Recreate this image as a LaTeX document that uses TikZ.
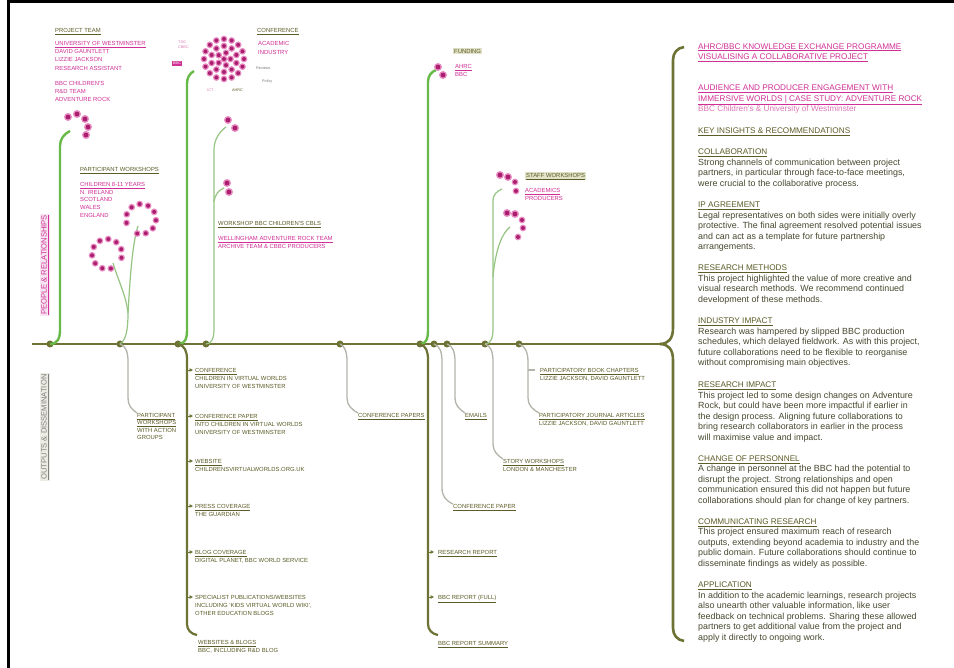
\documentclass[tikz,border=0pt]{standalone}
\usepackage{fontspec}
\setmainfont{Liberation Sans}
\usetikzlibrary{arrows.meta}
\definecolor{tlc}{RGB}{110,114,52}
\definecolor{grn}{RGB}{104,186,72}
\definecolor{grnthin}{RGB}{150,196,130}
\definecolor{gry}{RGB}{178,180,170}
\definecolor{mag}{RGB}{208,48,150}
\definecolor{lmag}{RGB}{220,120,180}
\definecolor{dotc}{RGB}{170,30,110}
\definecolor{halo}{RGB}{232,140,195}
\definecolor{otext}{RGB}{92,92,40}
\definecolor{btext}{RGB}{72,72,48}
\definecolor{beige}{RGB}{226,226,200}
\definecolor{palepink}{RGB}{246,228,240}
\definecolor{palegray}{RGB}{236,236,228}
\newcommand\mydot[2]{\fill[halo] ({#1},{#2}) circle (4pt); \fill[dotc] ({#1},{#2}) circle (2.4pt);}
\newcommand\smdot[2]{\fill[halo] ({#1},{#2}) circle (3.4pt); \fill[dotc] ({#1},{#2}) circle (2pt);}
\begin{document}
\begin{tikzpicture}[x=1pt,y=-1pt,
  timeline/.style={draw=tlc,line width=2.6pt},
  outthick/.style={draw=tlc,line width=2.2pt},
  stemT/.style={draw=grn,line width=2.4pt},
  stemt/.style={draw=grnthin,line width=1.2pt},
  grline/.style={draw=gry,line width=1.3pt},
  tnode/.style={circle,fill=tlc,inner sep=0pt,minimum size=7pt},
  tickarrow/.style={draw=tlc,line width=0.8pt,-{Triangle[length=3.5pt,width=3.5pt]}},
  lbl/.style={font=\fontsize{5.9}{8}\selectfont,text=otext,inner sep=0pt,anchor=north west,align=left},
  mlbl/.style={lbl,text=mag},
  tiny/.style={font=\fontsize{3.8}{5}\selectfont,inner sep=0pt,anchor=north west,align=left},
  body/.style={font=\fontsize{8.9}{10.5}\selectfont,text=btext,inner sep=0pt,anchor=north west,align=left},
  rhead/.style={font=\fontsize{8.2}{10.5}\selectfont,text=mag,inner sep=0pt,anchor=north west,align=left},
  shead/.style={text=otext}
]
\useasboundingbox (0,0) rectangle (954,668);
\fill[white] (0,0) rectangle (954,668);
\draw[line width=3pt,black] (8,668) -- (8,1.5) -- (954,1.5);

% ---------- timeline ----------
\coordinate (tstart) at (32,344);
\coordinate (bp) at (660,344);
\coordinate (btop) at (684,47);
\coordinate (bbot) at (684,641);
\draw[timeline] (tstart) -- (bp);
\draw[timeline] (bp) .. controls (668,344) and (673,339) .. (673,328) -- (673,60) .. controls (673,53) and (677,48) .. (btop);
\draw[timeline] (bp) .. controls (668,344) and (673,349) .. (673,360) -- (673,628) .. controls (673,635) and (677,640) .. (bbot);

\node[tnode] (t1) at (50,344) {};
\node[tnode] (t2) at (120,344) {};
\node[tnode] (t3) at (178,344) {};
\node[tnode] (t4) at (206,344) {};
\node[tnode] (t5) at (340,344) {};
\node[tnode] (t6) at (420,344) {};
\node[tnode] (t7) at (434,344) {};
\node[tnode] (t8) at (447,344) {};
\node[tnode] (t9) at (485,344) {};
\node[tnode] (t10) at (519,344) {};

% ---------- rotated labels ----------
\node[rotate=90,font=\fontsize{7.6}{8}\selectfont,text=mag,fill=palepink,inner sep=1pt] (pr) at (45,265) {\underline{PEOPLE \& RELATIONSHIPS}};
\node[rotate=90,font=\fontsize{7.6}{8}\selectfont,text=gray,fill=palegray,inner sep=1pt] (od) at (45,427) {\underline{OUTPUTS \& DISSEMINATION}};

% ---------- upper stems ----------
\coordinate (s1top) at (70,131);
\draw[stemT] (t1.center) .. controls (57,344) and (60,339) .. (60,330) -- (60,146) .. controls (60,139) and (64,134) .. (s1top);
\mydot{68}{117}\mydot{77}{114}\mydot{85}{119}\mydot{88}{127}\mydot{86}{135}

\coordinate (rsplit) at (128,313);
\coordinate (ringA) at (138,226);
\coordinate (ringB) at (113,263);
\draw[stemt] (t2.center) .. controls (126,340) and (128,330) .. (rsplit);
\draw[stemt] (rsplit) .. controls (130,280) and (132,245) .. (ringA);
\draw[stemt] (rsplit) .. controls (126,295) and (118,280) .. (ringB);
\foreach \k in {0,...,9} {\smdot{141+15*cos(165+\k*33.3)}{219+15*sin(165+\k*33.3)}}
\foreach \k in {0,...,9} {\smdot{107+15*cos(75+\k*33.3)}{254+15*sin(75+\k*33.3)}}

\coordinate (s3top) at (194,71);
\draw[stemT] (t3.center) .. controls (185,344) and (187,339) .. (187,330) -- (187,84) .. controls (187,78) and (189,74) .. (s3top);
% conference cluster
\foreach \rr/\nn/\oo in {20/16/0,13/10/18,6.5/5/0} {\foreach \i in {1,...,\nn} {\smdot{224+\rr*cos(\oo+360*\i/\nn)}{59+\rr*sin(\oo+360*\i/\nn)}}}
\smdot{224}{59}

\coordinate (s4top) at (226,127);
\coordinate (s4br) at (224,188);
\draw[stemt] (t4.center) .. controls (212,344) and (214,338) .. (214,328) -- (214,150) .. controls (214,140) and (219,132) .. (s4top);
\draw[stemt] (214,202) .. controls (215,194) and (219,190) .. (s4br);
\mydot{228}{120}\mydot{235}{128}
\mydot{227}{183}\mydot{229}{192}

\coordinate (s6top) at (436,70);
\draw[stemT] (t6.center) .. controls (426,344) and (428,339) .. (428,330) -- (428,82) .. controls (428,76) and (431,72) .. (s6top);
\mydot{438}{67}\mydot{443}{75}

\coordinate (s9top) at (502,189);
\coordinate (s9br) at (510,227);
\draw[stemt] (t9.center) .. controls (491,344) and (493,338) .. (493,328) -- (493,200) .. controls (493,195) and (497,191) .. (s9top);
\draw[stemt] (493,277) .. controls (495,255) and (500,235) .. (s9br);
\mydot{500}{175}\mydot{508}{177}\smdot{515}{182}\smdot{516}{191}
\mydot{507}{213}\mydot{515}{214}\smdot{522}{220}\smdot{523}{228}\smdot{518}{237}

% ---------- upper labels ----------
\node[lbl] (ptl) at (55,28) {\underline{PROJECT TEAM}};
\node[mlbl,font=\fontsize{5.9}{8.3}\selectfont] (team) at (55,41) {\underline{UNIVERSITY OF WESTMINSTER}\\DAVID GAUNTLETT\\LIZZIE JACKSON\\RESEARCH ASSISTANT};
\node[mlbl] (bbct) at (55,81) {BBC CHILDREN'S\\R\&D TEAM\\ADVENTURE ROCK};

\node[lbl] (pwh) at (80,167) {\underline{PARTICIPANT WORKSHOPS}};
\node[mlbl,font=\fontsize{5.9}{7.8}\selectfont] (pwl) at (80,182) {\underline{CHILDREN 8-11 YEARS}\\N. IRELAND\\SCOTLAND\\WALES\\ENGLAND};

\node[lbl] (confh) at (257,28) {\underline{CONFERENCE}};
\node[mlbl,font=\fontsize{5.9}{9}\selectfont] (confl) at (258,41) {ACADEMIC\\INDUSTRY};
\node[tiny,text=gry!70!black] (rev) at (256,66.5) {Reviews};
\node[tiny,text=gry!70!black] (pol) at (262,80) {Policy};
\node[tiny,text=lmag] (tsg) at (178,41) {TSG\\CBBC};
\node[tiny,fill=mag,text=white,inner sep=1pt] (bbcb) at (172,61) {BBC};
\node[tiny,text=lmag] (ict) at (207,89) {ICT};
\node[tiny,text=otext] (ahrcs) at (232,89) {AHRC};

\node[lbl,fill=beige,inner sep=1pt] (fundh) at (453,48) {FUNDING};
\node[mlbl] (fundl) at (455,64) {\underline{AHRC}\\BBC};

\node[lbl] (wsh) at (218,221) {\underline{WORKSHOP BBC CHILDREN'S CBLS}};
\node[mlbl] (wsl) at (218,236) {\underline{WELLINGHAM ADVENTURE ROCK TEAM}\\ARCHIVE TEAM \& CBBC PRODUCERS};

\node[lbl,fill=beige,inner sep=1pt] (swh) at (525,172) {\underline{STAFF WORKSHOPS}};
\node[mlbl] (swl) at (525,188) {\underline{ACADEMICS}\\PRODUCERS};

% ---------- lower connectors ----------
\node[lbl,font=\fontsize{5.9}{7.5}\selectfont] (pwa) at (137,413) {\underline{PARTICIPANT}\\\underline{WORKSHOPS}\\WITH ACTION\\GROUPS};
\draw[grline] (t2.center) .. controls (126,346) and (128,352) .. (128,362) -- (128,398) .. controls (128,405) and (131,409) .. (pwa.north west);

\coordinate (o7c) at (197,635);
\draw[outthick] (t3.center) .. controls (185,346) and (187,351) .. (187,360) -- (187,624) .. controls (187,630) and (191,634) .. (o7c);
\node[lbl] (o1) at (195,368) {\underline{CONFERENCE}\\CHILDREN IN VIRTUAL WORLDS\\UNIVERSITY OF WESTMINSTER};
\node[lbl] (o2) at (195,414) {\underline{CONFERENCE PAPER}\\INTO CHILDREN IN VIRTUAL WORLDS\\UNIVERSITY OF WESTMINSTER};
\node[lbl] (o3) at (195,459) {\underline{WEBSITE}\\CHILDRENSVIRTUALWORLDS.ORG.UK};
\node[lbl] (o4) at (195,504) {\underline{PRESS COVERAGE}\\THE GUARDIAN};
\node[lbl] (o5) at (195,550) {\underline{BLOG COVERAGE}\\DIGITAL PLANET, BBC WORLD SERVICE};
\node[lbl] (o6) at (195,595) {SPECIALIST PUBLICATIONS/WEBSITES\\INCLUDING `KIDS VIRTUAL WORLD WIKI',\\OTHER EDUCATION BLOGS};
\node[lbl] (o7) at (198,640) {\underline{WEBSITES \& BLOGS}\\BBC, INCLUDING R\&D BLOG};
\foreach \yy in {370,416,461,506,552,597} {\draw[tickarrow] (187,\yy) -- (193,\yy);}

\coordinate (r3c) at (438,635);
\draw[outthick] (t6.center) .. controls (426,346) and (428,351) .. (428,360) -- (428,624) .. controls (428,630) and (432,634) .. (r3c);
\node[lbl] (r1) at (438,550) {\underline{RESEARCH REPORT}};
\node[lbl] (r2) at (438,595) {\underline{BBC REPORT (FULL)}};
\node[lbl] (r3) at (438,641) {\underline{BBC REPORT SUMMARY}};
\foreach \yy in {552,597} {\draw[tickarrow] (428,\yy) -- (434,\yy);}

\node[lbl] (cp1) at (358,413) {\underline{CONFERENCE PAPERS}};
\draw[grline] (t5.center) .. controls (345,346) and (347,352) .. (347,362) -- (347,398) .. controls (347,405) and (351,409) .. (cp1.north west);

\node[lbl] (cp2) at (453,504) {\underline{CONFERENCE PAPER}};
\draw[grline] (t7.center) .. controls (440,346) and (442,352) .. (442,362) -- (442,488) .. controls (442,496) and (446,501) .. (cp2.north west);

\node[lbl] (em) at (465,413) {\underline{EMAILS}};
\draw[grline] (t8.center) .. controls (453,346) and (455,352) .. (455,362) -- (455,398) .. controls (455,405) and (459,409) .. (em.north west);

\node[lbl] (stw) at (503,459) {\underline{STORY WORKSHOPS}\\LONDON \& MANCHESTER};
\draw[grline] (t9.center) .. controls (491,346) and (493,352) .. (493,362) -- (493,444) .. controls (493,451) and (497,455) .. (stw.north west);

\node[lbl] (pbc) at (540,368) {\underline{PARTICIPATORY BOOK CHAPTERS}\\LIZZIE JACKSON, DAVID GAUNTLETT};
\node[lbl] (pja) at (539,413) {\underline{PARTICIPATORY JOURNAL ARTICLES}\\LIZZIE JACKSON, DAVID GAUNTLETT};
\draw[grline] (t10.center) .. controls (525,346) and (528,352) .. (528,362) -- (528,398) .. controls (528,405) and (532,409) .. (pja.north west);
\draw[grline] (528,370) -- (535,370);

% ---------- right column ----------
\node[rhead] (h1) at (698,43) {\underline{AHRC/BBC KNOWLEDGE EXCHANGE PROGRAMME}\\\underline{VISUALISING A COLLABORATIVE PROJECT}};
\node[rhead] (h2) at (698,85) {\underline{AUDIENCE AND PRODUCER ENGAGEMENT WITH}\\\underline{IMMERSIVE WORLDS | CASE STUDY: ADVENTURE ROCK}\\{\color{lmag}BBC Children's \& University of Westminster}};
\node[rhead,text=otext] (h3) at (698,128) {\underline{KEY INSIGHTS \& RECOMMENDATIONS}};
\newcommand\sh[1]{{\fontsize{8.2}{10.5}\selectfont\color{otext}\underline{#1}}}
\node[body] (k1) at (698,149) {\sh{COLLABORATION}\\Strong channels of communication between project\\partners, in particular through face-to-face meetings,\\were crucial to the collaborative process.};
\node[body] (k2) at (698,202) {\sh{IP AGREEMENT}\\Legal representatives on both sides were initially overly\\protective. The final agreement resolved potential issues\\and can act as a template for future partnership\\arrangements.};
\node[body] (k3) at (698,265) {\sh{RESEARCH METHODS}\\This project highlighted the value of more creative and\\visual research methods. We recommend continued\\development of these methods.};
\node[body] (k4) at (698,318) {\sh{INDUSTRY IMPACT}\\Research was hampered by slipped BBC production\\schedules, which delayed fieldwork. As with this project,\\future collaborations need to be flexible to reorganise\\without compromising main objectives.};
\node[body] (k5) at (698,382) {\sh{RESEARCH IMPACT}\\This project led to some design changes on Adventure\\Rock, but could have been more impactful if earlier in\\the design process. Aligning future collaborations to\\bring research collaborators in earlier in the process\\will maximise value and impact.};
\node[body] (k6) at (698,455.5) {\sh{CHANGE OF PERSONNEL}\\A change in personnel at the BBC had the potential to\\disrupt the project. Strong relationships and open\\communication ensured this did not happen but future\\collaborations should plan for change of key partners.};
\node[body] (k7) at (698,518.5) {\sh{COMMUNICATING RESEARCH}\\This project ensured maximum reach of research\\outputs, extending beyond academia to industry and the\\public domain. Future collaborations should continue to\\disseminate findings as widely as possible.};
\node[body] (k8) at (698,582) {\sh{APPLICATION}\\In addition to the academic learnings, research projects\\also unearth other valuable information, like user\\feedback on technical problems. Sharing these allowed\\partners to get additional value from the project and\\apply it directly to ongoing work.};
\end{tikzpicture}
\end{document}
